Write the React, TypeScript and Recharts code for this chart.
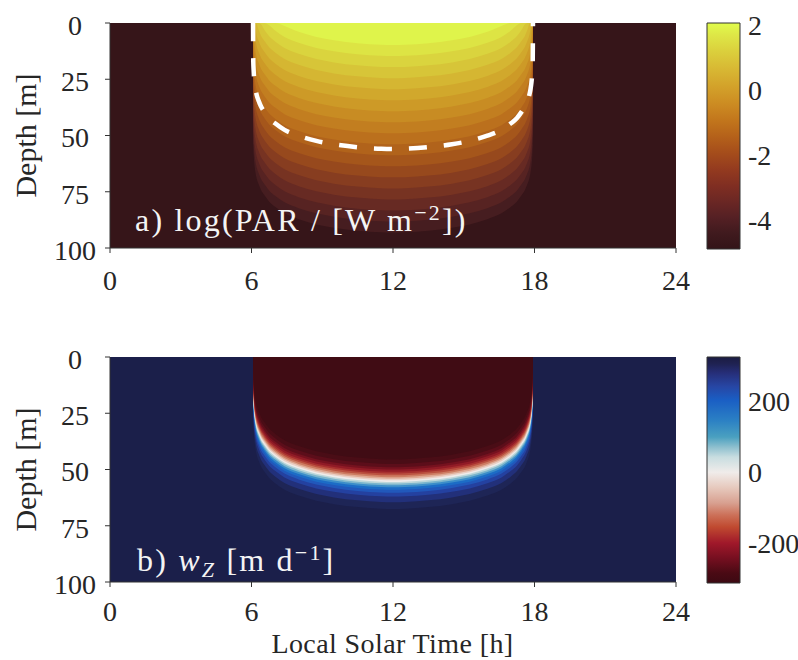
import React from 'react';
import { ComposedChart, Area, Line, XAxis, YAxis, CartesianGrid, ReferenceArea } from 'recharts';

const FONT = 'Liberation Serif, serif';
const INK = '#262626';
const BOX = '#333333';

// ---- data ----
// local solar time of the daylight columns [h]
const hours = [6.065, 6.075, 6.09, 6.1, 6.13, 6.17, 6.22, 6.3, 6.4, 6.55, 6.75, 7.0, 7.4, 8.0, 8.75, 9.5, 10.5, 11.5, 12.0,
  12.5, 13.5, 14.5, 15.25, 16.0, 16.6, 17.0, 17.25, 17.45, 17.6, 17.7, 17.78, 17.83, 17.87, 17.9, 17.91, 17.925, 17.935];
// depth of the white dashed isolume [m]
const isolumeDepth = [0, 17, 21, 23, 26.5, 29.5, 32, 34.5, 37, 39.5, 42.3, 44.6, 47.5, 50.1, 52.4, 53.9, 55.2, 55.9, 56,
  55.9, 55.2, 53.9, 52.4, 50.1, 47.5, 44.6, 42.3, 39.5, 37, 34.5, 32, 29.5, 26.5, 23, 21, 17, 0];

// panel a: lower edge of each filled PAR contour band at noon [m], and its colour
const parBandDepthsAtNoon = [9.8, 14.7, 19.6, 24.5, 29.4, 34.3, 39.2, 44.1, 49.0, 53.9, 58.8, 63.7, 68.6, 73.5, 78.4, 83.3, 88.2, 93.1];
const parBandColors = ['#dff44b', '#dde444', '#dad43e', '#d7c538', '#d5b632', '#d1a82c', '#cd9a27', '#c88c23', '#c27e20',
  '#bb701d', '#b1631b', '#a5561b', '#97491d', '#873d20', '#773322', '#672a23', '#572322', '#461d20'];
const parNightColor = '#361519';

// panel b: lower edge of each w_Z colour layer at noon [m], and its colour
const wzLayerDepthsAtNoon = [45.5, 47.5, 49, 50, 51, 51.8, 52.6, 53.4, 54.1, 54.8, 55.5, 56.2, 57.0, 57.9, 59.0, 60.3, 62, 64.5, 67.5];
const wzLayerColors = ['#400c14', '#4a0d16', '#5c0e1a', '#76121f', '#911b26', '#a8302f', '#bb5140', '#cd7c62', '#dea892',
  '#eacfc4', '#eeeceb', '#bcd7da', '#7cb6cd', '#3c8ec9', '#1c6cc6', '#2158bb', '#2441a0', '#22307a', '#1e2556'];
const wzNightColor = '#1b1f4a';

const timeTicks = [0, 6, 12, 18, 24];
const depthTicks = [0, 25, 50, 75, 100];
const parColorTicks = [-4, -2, 0, 2];
const parColorRange: [number, number] = [-4.9, 2.06];
const wzColorTicks = [-200, 0, 200];
const wzColorRange: [number, number] = [-314, 324];

// colormaps (bottom -> top of colour bar)
const solarOffsets = [0, 0.07, 0.14, 0.21, 0.28, 0.35, 0.43, 0.5, 0.57, 0.64, 0.72, 0.8, 0.88, 0.95, 1];
const solarColors = ['#331418', '#401a1e', '#552024', '#6b2724', '#802e22', '#933a1f', '#a64e1b', '#b5621a', '#c2761c',
  '#cc8b22', '#d3a22a', '#d8b934', '#dbd13d', '#dee847', '#e1fd4b'];
const balanceOffsets = [0, 0.044, 0.11, 0.177, 0.248, 0.3, 0.354, 0.42, 0.49, 0.557, 0.6, 0.646, 0.72, 0.81, 0.87, 0.93, 0.97, 1];
const balanceColors = ['#3c0912', '#4a0a14', '#760f20', '#a0182a', '#c04a30', '#cc7058', '#d8a090', '#e6c8bc', '#f0ecea',
  '#c8dde0', '#8fc0cf', '#4aa0c0', '#2b80c4', '#1a5ec4', '#2746a4', '#262e78', '#1f2252', '#1b1c42'];

// ---- table for the library ----
const noonIsolume = Math.max(...isolumeDepth);
const rows = hours.map((t, i) => {
  const iso = isolumeDepth[i];
  const lit = iso > 0;
  const shift = noonIsolume - iso;
  const row: Record<string, number> = { t, dash: iso };
  parBandDepthsAtNoon.forEach((d, k) => { row['p' + k] = lit ? Math.max(0, d - shift) : 0; });
  wzLayerDepthsAtNoon.forEach((d, k) => { row['w' + k] = lit ? Math.max(0, d - shift) : 0; });
  return row;
});

const tickStyle = { fontSize: 28, fill: INK, fontFamily: FONT };
const NoTick = () => <g />;
const DepthTick = (p: any) => (
  <text x={p.x - 28} y={p.y} dy="0.42em" textAnchor="middle" fontSize={28} fill={INK} style={{ fontFamily: FONT }}>
    {p.payload.value}
  </text>
);

function Panel({ prefix, depths, colors, night, dashed, xTickMargin }: any) {
  const order = depths.map((_: number, k: number) => k).reverse();
  return (
    <ComposedChart width={690} height={298} data={rows} margin={{ top: 23, right: 14, bottom: 0, left: 0 }}>
      <CartesianGrid horizontal={false} vertical={false} fill={night} fillOpacity={1} />
      <XAxis dataKey="t" type="number" domain={[0, 24]} ticks={timeTicks} interval={0} allowDataOverflow height={50}
        tickSize={5} tickMargin={xTickMargin} axisLine={{ stroke: BOX }} tickLine={{ stroke: BOX }} tick={tickStyle} />
      <XAxis xAxisId="top" orientation="top" type="number" domain={[0, 24]} ticks={timeTicks} interval={0} allowDataOverflow
        height={0} tickSize={5} axisLine={{ stroke: BOX }} tickLine={{ stroke: BOX }} tick={NoTick} />
      <YAxis type="number" domain={[0, 100]} reversed ticks={depthTicks} interval={0} allowDataOverflow width={110}
        tickSize={5} tickMargin={2} axisLine={{ stroke: BOX }} tickLine={{ stroke: BOX }} tick={DepthTick} />
      <YAxis yAxisId="right" orientation="right" type="number" domain={[0, 100]} reversed ticks={depthTicks} interval={0}
        allowDataOverflow width={0} tickSize={5} axisLine={{ stroke: BOX }} tickLine={{ stroke: BOX }} tick={NoTick} />
      {order.map((k: number) => (
        <Area key={k} dataKey={prefix + k} type="monotone" baseValue={0} fill={colors[k]} fillOpacity={1}
          stroke="none" dot={false} activeDot={false} isAnimationActive={false} />
      ))}
      {dashed && (
        <Line dataKey="dash" type="monotone" stroke="#ffffff" strokeWidth={4.5} strokeDasharray="18 17"
          dot={false} activeDot={false} isAnimationActive={false} />
      )}
    </ComposedChart>
  );
}

function ColorBar({ range, ticks, gradId }: any) {
  return (
    <ComposedChart width={98} height={260} data={[{ x: 0 }, { x: 1 }]} margin={{ top: 23, right: 0, bottom: 11, left: 7 }}>
      <XAxis dataKey="x" type="number" domain={[0, 1]} hide />
      <YAxis orientation="right" type="number" domain={range} ticks={ticks} interval={0} allowDataOverflow width={58}
        axisLine={false} tickLine={false} tickSize={4} tickMargin={4} tick={tickStyle} />
      <ReferenceArea x1={0} x2={1} y1={range[0]} y2={range[1]} fill={`url(#${gradId})`} fillOpacity={1}
        stroke={BOX} strokeWidth={1} ifOverflow="visible" />
    </ComposedChart>
  );
}

export default function App() {
  return (
    <div style={{ position: 'absolute', left: 0, top: 0, width: 798, height: 660, background: '#ffffff', fontFamily: FONT }}>
      <svg width={0} height={0} style={{ position: 'absolute' }}>
        <defs>
          <linearGradient id="solarGrad" x1="0" y1="1" x2="0" y2="0">
            {solarOffsets.map((o, i) => <stop key={i} offset={o} stopColor={solarColors[i]} />)}
          </linearGradient>
          <linearGradient id="balanceGrad" x1="0" y1="1" x2="0" y2="0">
            {balanceOffsets.map((o, i) => <stop key={i} offset={o} stopColor={balanceColors[i]} />)}
          </linearGradient>
        </defs>
      </svg>
      <div style={{ position: 'absolute', left: 0, top: 0 }}>
        <Panel prefix="p" depths={parBandDepthsAtNoon} colors={parBandColors} night={parNightColor} dashed xTickMargin={17} />
      </div>
      <div style={{ position: 'absolute', left: 0, top: 334 }}>
        <Panel prefix="w" depths={wzLayerDepthsAtNoon} colors={wzLayerColors} night={wzNightColor} dashed={false} xTickMargin={14} />
      </div>
      <div style={{ position: 'absolute', left: 700, top: 0 }}>
        <ColorBar range={parColorRange} ticks={parColorTicks} gradId="solarGrad" />
      </div>
      <div style={{ position: 'absolute', left: 700, top: 334 }}>
        <ColorBar range={wzColorRange} ticks={wzColorTicks} gradId="balanceGrad" />
      </div>
      <svg width={798} height={660} style={{ position: 'absolute', left: 0, top: 0, pointerEvents: 'none', fontFamily: FONT }}>
        <text transform="translate(36,135.5) rotate(-90)" textAnchor="middle" fontSize={30} fill={INK}>Depth [m]</text>
        <text transform="translate(36,469.5) rotate(-90)" textAnchor="middle" fontSize={30} fill={INK}>Depth [m]</text>
        <text x={392.5} y={653} textAnchor="middle" fontSize={28} fill={INK} letterSpacing={0.4}>Local Solar Time [h]</text>
        <text x={135} y={231} fontSize={32} fill="#f4f4f4" letterSpacing={2.2}>
          a) log(PAR / [W m<tspan fontSize={22} dy={-11}>−2</tspan><tspan dy={11}>])</tspan>
        </text>
        <text x={137} y={571} fontSize={32} fill="#f4f4f4" letterSpacing={2.2}>
          b) <tspan fontStyle="italic">w</tspan><tspan fontStyle="italic" fontSize={22} dy={6}>Z</tspan>
          <tspan dy={-6}> [m d</tspan><tspan fontSize={22} dy={-11}>−1</tspan><tspan dy={11}>]</tspan>
        </text>
      </svg>
    </div>
  );
}
